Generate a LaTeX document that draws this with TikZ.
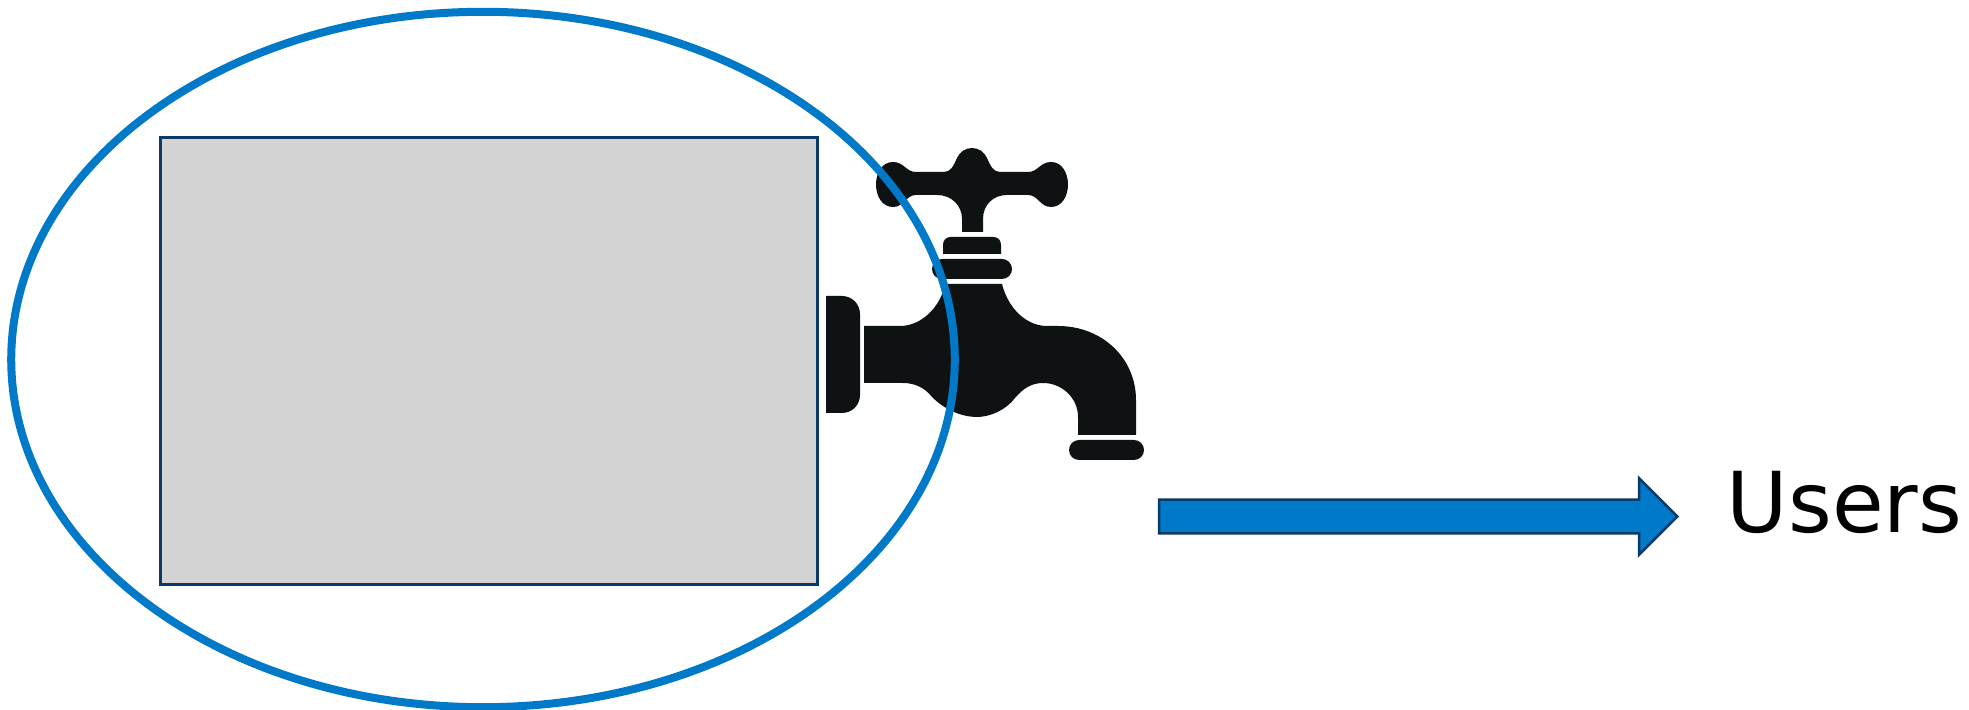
\documentclass[tikz,border=0pt]{standalone}
\usepackage{fontspec}
\setmainfont{DejaVu Sans}
\usetikzlibrary{shapes.geometric,shapes.arrows}
\definecolor{ringblue}{HTML}{0079C8}
\definecolor{edgenavy}{HTML}{0B3A66}
\definecolor{tapblack}{HTML}{0F1213}
\definecolor{tankgray}{HTML}{D3D3D3}
\begin{document}
\begin{tikzpicture}[x=.01cm,y=-.01cm,
    tank/.style={rectangle,draw=edgenavy,fill=tankgray,line width=.03cm,inner sep=0,outer sep=0,minimum width=6.57cm,minimum height=4.46cm},
    ring/.style={ellipse,draw=ringblue,line width=.08cm,inner sep=0,outer sep=0,minimum width=9.43cm,minimum height=6.95cm},
    flow/.style={single arrow,draw=edgenavy,fill=ringblue,line width=.025cm,inner sep=0,outer sep=0,text height=.31cm,text depth=0cm,text width=0cm,single arrow head extend=.215cm,single arrow tip angle=90,single arrow head indent=0cm,minimum height=5.18cm},
    tap/.style={fill=tapblack}]
  \useasboundingbox (0,0) rectangle (1969,710);

  % Tank
  \node[tank] (store) at (489,361) {};

  % Tap
  \fill[tap] (826,296) -- (842,296) .. controls (852,296) and (860,304) .. (860,314) -- (860,395) .. controls (860,405) and (852,413) .. (842,413) -- (826,413) -- cycle;
  \fill[tap] (864,326) -- (900,326) .. controls (922,326) and (941,306) .. (945,284) -- (1002,284)
    .. controls (1008,308) and (1026,326) .. (1047,326) -- (1058,326)
    .. controls (1102,326) and (1136,358) .. (1136,400) -- (1136,435) -- (1078,435) -- (1078,417)
    .. controls (1078,398) and (1062,383) .. (1043,383) .. controls (1030,383) and (1022,390) .. (1015,398)
    .. controls (1006,410) and (990,417) .. (977,417) .. controls (962,417) and (945,410) .. (932,397)
    .. controls (925,388) and (915,383) .. (903,383) -- (864,383) -- cycle;
  \fill[tap] (943,254) -- (943,245) .. controls (943,240) and (946,237) .. (951,237) -- (993,237) .. controls (998,237) and (1001,240) .. (1001,245) -- (1001,254) -- cycle;
  \fill[tap,rounded corners=.1cm] (932,259) rectangle (1012,279);
  \fill[tap,rounded corners=.1cm] (1069,440) rectangle (1144,460);
  \fill[tap] (893,162) .. controls (904,162) and (906,172) .. (916,172) -- (944,172)
    .. controls (951,172) and (954,165) .. (957,158) .. controls (960,152) and (965,148) .. (972,148)
    .. controls (979,148) and (984,152) .. (987,158) .. controls (990,165) and (993,172) .. (1000,172) -- (1028,172)
    .. controls (1038,172) and (1040,162) .. (1051,162) .. controls (1062,162) and (1068,173) .. (1068,184.5)
    .. controls (1068,196) and (1062,207) .. (1051,207) .. controls (1040,207) and (1038,195) .. (1028,195) -- (1007,195)
    .. controls (993,195) and (983,205) .. (983,219) -- (983,232) -- (962,232) -- (962,219)
    .. controls (962,205) and (951,195) .. (937,195) -- (916,195)
    .. controls (906,195) and (904,207) .. (893,207) .. controls (882,207) and (876,196) .. (876,184.5)
    .. controls (876,173) and (882,162) .. (893,162) -- cycle;

  % Ring
  \node[ring] (zone) at (483,359.5) {};

  % Arrow and label
  \node[flow,anchor=tail] (supply) at (1159,516.5) {};
  \node[anchor=base west,inner sep=0,font=\fontsize{23.9pt}{28pt}\selectfont] (users) at (1726,533) {Users};
\end{tikzpicture}
\end{document}
